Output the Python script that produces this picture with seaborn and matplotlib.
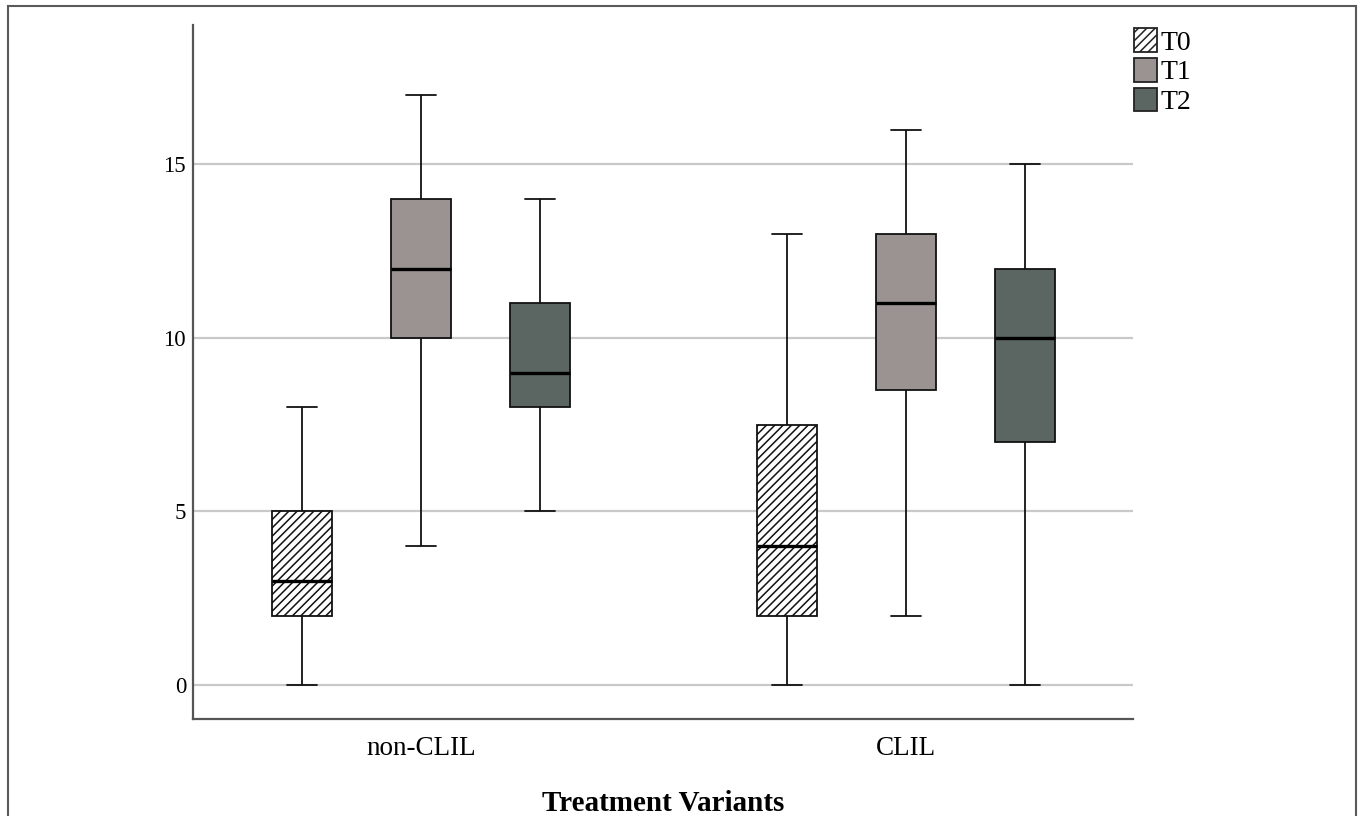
import numpy as np
import pandas as pd
import matplotlib
matplotlib.use('Agg')
import matplotlib.pyplot as plt
from matplotlib.patches import Patch, Rectangle
import seaborn as sns

groups = ['non-CLIL', 'CLIL']
times = ['T0', 'T1', 'T2']
# five-number summaries: min, q1, median, q3, max
nonclil_t0 = [0, 2, 3, 5, 8]
nonclil_t1 = [4, 10, 12, 14, 17]
nonclil_t2 = [5, 8, 9, 11, 14]
clil_t0 = [0, 2, 4, 7.5, 13]
clil_t1 = [2, 8.5, 11, 13, 16]
clil_t2 = [0, 7, 10, 12, 15]
box_colors = ['#ffffff', '#9b9391', '#5b6561']
y_ticks = [0, 5, 10, 15]

series = {
    ('non-CLIL', 'T0'): nonclil_t0,
    ('non-CLIL', 'T1'): nonclil_t1,
    ('non-CLIL', 'T2'): nonclil_t2,
    ('CLIL', 'T0'): clil_t0,
    ('CLIL', 'T1'): clil_t1,
    ('CLIL', 'T2'): clil_t2,
}
rows = []
for (g, t), vals in series.items():
    for v in vals:
        rows.append({'group': g, 'time': t, 'score': v})
df = pd.DataFrame(rows)

sns.set_theme(style='white')
plt.rcParams['font.family'] = ['Liberation Serif', 'DejaVu Serif']
plt.rcParams['hatch.linewidth'] = 1.1
plt.rcParams['text.color'] = 'black'

fig = plt.figure(figsize=(13.63, 8.16), dpi=100)
ax = fig.add_axes([193 / 1363, 1 - 719 / 816, 940 / 1363, 694 / 816])

sns.boxplot(data=df, x='group', y='score', hue='time', order=groups, hue_order=times,
            palette=box_colors, saturation=1, width=0.736, gap=0.5, linecolor='#111111',
            linewidth=1.3, medianprops={'linewidth': 2.4, 'color': 'black'},
            legend=False, ax=ax)

# SPSS-style diagonal fill on the T0 boxes
for p in ax.patches:
    fc = p.get_facecolor()
    if fc[0] > 0.95 and fc[1] > 0.95 and fc[2] > 0.95:
        p.set_hatch('////')

ax.set_xlim(-0.47, 1.468)
ax.set_ylim(-0.98, 19.02)
ax.set_yticks(y_ticks)
ax.yaxis.grid(True, color='#c9c9c9', linewidth=1.6)
ax.set_axisbelow(True)
ax.tick_params(axis='both', length=0, labelcolor='black')
ax.tick_params(axis='x', labelsize=19.5, pad=12)
ax.tick_params(axis='y', labelsize=16.5, pad=5)
ax.set_ylabel('')
ax.set_xlabel('Treatment Variants', fontsize=21, fontweight='bold', labelpad=21, color='black')
for side in ['top', 'right']:
    ax.spines[side].set_visible(False)
for side in ['left', 'bottom']:
    ax.spines[side].set_color('#555555')
    ax.spines[side].set_linewidth(1.6)

handles = [Patch(facecolor=c, edgecolor='#222222', linewidth=1.3, hatch='////' if i == 0 else None)
           for i, c in enumerate(box_colors)]
fig.legend(handles, times, loc='upper left', bbox_to_anchor=(1134 / 1363, 1 - 28 / 816),
           frameon=False, fontsize=20, handlelength=0.82, handleheight=0.95,
           handletextpad=0.15, labelspacing=0.08, borderpad=0, borderaxespad=0)

fig.add_artist(Rectangle((8 / 1363, -0.02), 1348 / 1363, 1 - 6 / 816 + 0.02,
                         transform=fig.transFigure, fill=False,
                         edgecolor='#5a5a5a', linewidth=1.5))

fig.savefig('out.png', dpi=100)
